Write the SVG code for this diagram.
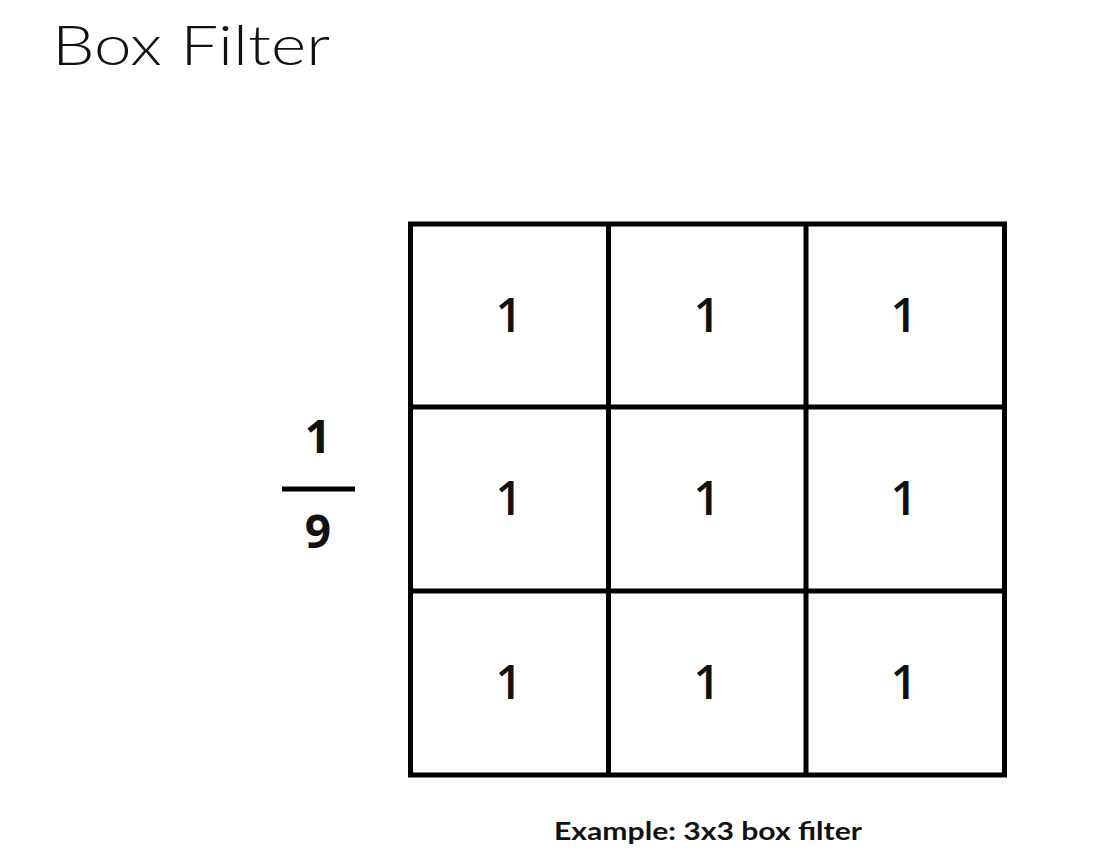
<svg xmlns="http://www.w3.org/2000/svg" width="1100" height="851" viewBox="0 0 1100 851">
<style>
.title{font-family:"Lato","Liberation Sans",sans-serif;font-weight:300;font-size:56px;fill:#111}
.cell{font-family:"Open Sans","Liberation Sans",sans-serif;font-weight:600;font-size:47px;fill:#111;text-anchor:middle}
.frac{font-family:"Open Sans","Liberation Sans",sans-serif;font-weight:bold;font-size:46px;fill:#111;text-anchor:middle}
.cap{font-family:"Lato","Liberation Sans",sans-serif;font-weight:bold;font-size:25px;fill:#111}
.grid{stroke:#000;stroke-width:5;fill:none}
</style>
<rect width="1100" height="851" fill="#fff"/>
<text class="title" x="52" y="65" textLength="278" lengthAdjust="spacingAndGlyphs">Box Filter</text>
<g id="fraction">
<text class="frac" x="318" y="453">1</text>
<line x1="282" y1="489" x2="355" y2="489" stroke="#000" stroke-width="5"/>
<text class="frac" x="318" y="548">9</text>
</g>
<g id="grid">
<rect class="grid" x="410.5" y="224" width="594" height="551"/>
<line class="grid" x1="608.5" y1="224" x2="608.5" y2="775"/>
<line class="grid" x1="806" y1="224" x2="806" y2="775"/>
<line class="grid" x1="410.5" y1="407" x2="1004.5" y2="407"/>
<line class="grid" x1="410.5" y1="591" x2="1004.5" y2="591"/>
</g>
<g id="cells">
<text class="cell" x="509" y="332">1</text>
<text class="cell" x="707" y="332">1</text>
<text class="cell" x="904" y="332">1</text>
<text class="cell" x="509" y="515">1</text>
<text class="cell" x="707" y="515">1</text>
<text class="cell" x="904" y="515">1</text>
<text class="cell" x="509" y="699">1</text>
<text class="cell" x="707" y="699">1</text>
<text class="cell" x="904" y="699">1</text>
</g>
<text class="cap" x="554" y="840" textLength="308" lengthAdjust="spacingAndGlyphs">Example: 3x3 box filter</text>
</svg>
